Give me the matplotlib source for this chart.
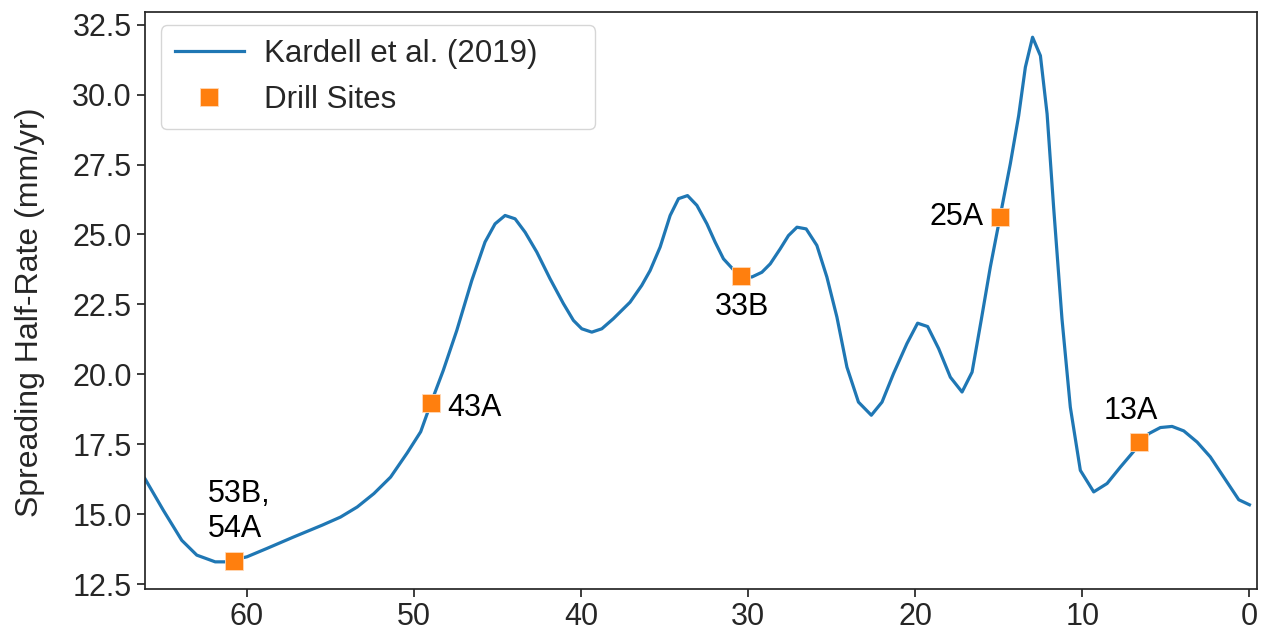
import matplotlib

matplotlib.use('Agg')
import matplotlib.pyplot as plt

# Kardell et al. (2019) half-rate curve, age (Ma) vs rate (mm/yr)
ages = [66.1, 65.0, 63.9, 63.0, 61.9, 61.3, 60.0, 58.8, 57.2, 55.5,
        54.4, 53.4, 52.4, 51.4, 50.4, 49.6, 49.0, 48.25, 47.44, 46.54,
        45.75, 45.15, 44.55, 43.95, 43.35, 42.65, 41.86, 41.06, 40.46, 39.96,
        39.36, 38.76, 38.07, 37.07, 36.37, 35.87, 35.27, 34.67, 34.17, 33.63,
        33.07, 32.47, 31.98, 31.48, 30.88, 30.42, 29.78, 29.18, 28.68, 28.08,
        27.59, 27.08, 26.53, 25.89, 25.29, 24.69, 24.09, 23.40, 22.63, 21.99,
        21.30, 20.50, 19.86, 19.26, 18.60, 17.90, 17.20, 16.60, 16.05, 15.51,
        14.31, 13.81, 13.41, 12.98, 12.51, 12.11, 11.72, 11.22, 10.72, 10.12,
        9.32, 8.52, 7.72, 6.03, 5.33, 4.63, 3.93, 3.13, 2.34, 1.54,
        0.64, 0.0]
rates = [16.27, 15.14, 14.07, 13.54, 13.30, 13.30, 13.48, 13.78, 14.19, 14.61,
         14.90, 15.26, 15.74, 16.33, 17.20, 17.95, 18.95, 20.14, 21.57, 23.36,
         24.73, 25.38, 25.68, 25.56, 25.08, 24.37, 23.42, 22.53, 21.93, 21.63,
         21.51, 21.63, 21.99, 22.58, 23.18, 23.71, 24.55, 25.68, 26.28, 26.39,
         26.04, 25.38, 24.73, 24.13, 23.74, 23.54, 23.48, 23.65, 23.95, 24.49,
         24.96, 25.26, 25.20, 24.61, 23.48, 22.05, 20.26, 19.01, 18.54, 19.01,
         20.03, 21.10, 21.83, 21.71, 20.92, 19.90, 19.37, 20.08, 21.95, 23.83,
         27.53, 29.25, 30.98, 32.05, 31.39, 29.31, 25.98, 21.99, 18.83, 16.57,
         15.80, 16.10, 16.69, 17.88, 18.10, 18.14, 17.98, 17.58, 17.05, 16.33,
         15.52, 15.34]

# drill sites
site_ages = [60.8, 49.0, 30.4, 14.9, 6.6]
site_rates = [13.32, 18.97, 23.52, 25.64, 17.57]
site_names = ['53B,\n54A', '43A', '33B', '25A', '13A']

plt.rcParams['font.family'] = ['Liberation Sans', 'DejaVu Sans']
plt.rcParams['axes.edgecolor'] = '.15'
plt.rcParams['xtick.color'] = '.15'
plt.rcParams['ytick.color'] = '.15'

fig = plt.figure(figsize=(12.62, 6.34), dpi=100)
ax = fig.add_axes([0.1149, 0.071, 0.8811, 0.910])

ax.plot(ages, rates, color='#1f77b4', lw=2.3, label='Kardell et al. (2019)')
ax.plot(site_ages, site_rates, ls='none', marker='s', ms=13.5,
        color='#ff7f0e', mec='#ffd9b8', mew=0.6, label='Drill Sites', zorder=3)

# label offsets in points: (dx, dy, ha, va)
px = 0.72
offsets = [(-26 * px, 50 * px, 'left', 'center'),
           (17 * px, -5 * px, 'left', 'center'),
           (0, -31 * px, 'center', 'center'),
           (-17 * px, 0, 'right', 'center'),
           (-8 * px, 31 * px, 'center', 'center')]
for a, r, name, (dx, dy, ha, va) in zip(site_ages, site_rates, site_names, offsets):
    ax.annotate(name, (a, r), xytext=(dx, dy), textcoords='offset points',
                ha=ha, va=va, fontsize=22, color='black', linespacing=1.2)

ax.set_xlim(66.1, -0.45)
ax.set_ylim(12.33, 32.95)
ax.set_xticks([60, 50, 40, 30, 20, 10, 0])
ax.set_ylabel('Spreading Half-Rate (mm/yr)', fontsize=23, color='.15')
ax.yaxis.set_label_coords(-0.09, 0.48)
ax.tick_params(labelsize=22, length=6, width=1.25)
for s in ax.spines.values():
    s.set_linewidth(1.25)

leg = ax.legend(loc='upper left', bbox_to_anchor=(0.0144, 0.0, 0.3903, 0.977),
                mode='expand', borderaxespad=0.0, fontsize=22.5,
                handlelength=2.2, borderpad=0.45, handletextpad=0.65,
                labelspacing=0.5)
for t in leg.get_texts():
    t.set_color('.15')

fig.savefig('out.png', dpi=100)
